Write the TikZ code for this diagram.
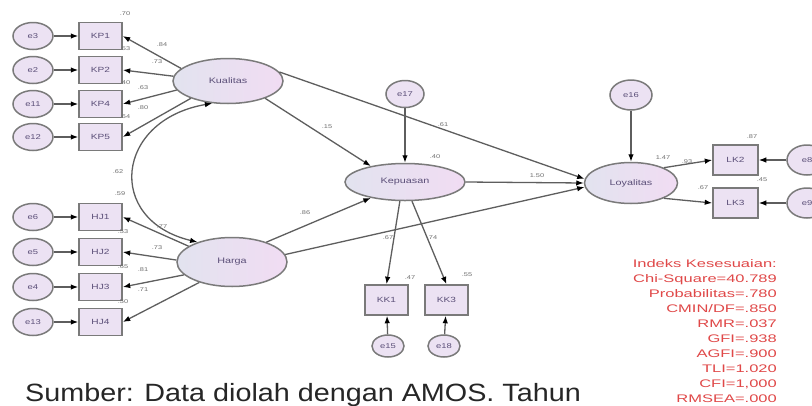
\documentclass[tikz,border=0pt]{standalone}
\usepackage{graphicx}
\usepackage{fontspec}
\setmainfont{Liberation Sans}
\usetikzlibrary{shapes.geometric,arrows.meta}
\definecolor{lgray}{HTML}{5E5E5E}
\definecolor{bgray}{HTML}{7A7A7A}
\definecolor{latL}{HTML}{E2E3EF}
\definecolor{latR}{HTML}{F1DCF3}
\definecolor{errfill}{HTML}{ECE2F3}
\definecolor{intext}{HTML}{5B4F78}
\definecolor{coef}{HTML}{707070}
\definecolor{statred}{HTML}{E04848}
\newcommand{\sx}[1]{\scalebox{1.35}[1]{#1}}
\tikzset{
  latent/.style={ellipse, draw=bgray, line width=1.5pt, left color=latL, right color=latR,
    inner sep=0pt, text=intext, font=\fontsize{8}{9}\selectfont},
  errv/.style={ellipse, draw=bgray, line width=1.5pt, fill=errfill, minimum width=40pt,
    minimum height=27pt, inner sep=0pt, text=intext, font=\fontsize{7}{8}\selectfont},
  obsbox/.style={rectangle, draw=bgray, line width=1.5pt, fill=errfill, minimum width=43pt,
    minimum height=27pt, inner sep=0pt, text=intext, font=\fontsize{7.5}{8}\selectfont},
  arr/.style={draw=lgray, line width=1.3pt, -{Latex[length=7.5pt,width=5.5pt,black]}},
  arrtwo/.style={draw=lgray, line width=1.3pt, {Latex[length=7.5pt,width=5.5pt,black]}-{Latex[length=7.5pt,width=5.5pt,black]}},
  cf/.style={text=coef, font=\fontsize{5.5}{6}\selectfont, inner sep=0pt}
}
\begin{document}
\begin{tikzpicture}[x=1pt,y=-1pt]
\useasboundingbox (0,0) rectangle (812,405);
\fill[white] (0,0) rectangle (812,405);
\clip (0,0) rectangle (812,405);

% latent variables
\node[latent, minimum width=110pt, minimum height=45pt] (kual) at (228,81) {\sx{Kualitas}};
\node[latent, minimum width=110pt, minimum height=49pt] (harga) at (232,262) {\sx{Harga}};
\node[latent, minimum width=120pt, minimum height=37pt] (kep) at (405,182) {\sx{Kepuasan}};
\node[latent, minimum width=93pt, minimum height=41pt] (loy) at (631,183) {\sx{Loyalitas}};

% Kualitas indicators
\node[obsbox] (kp1) at (100.5,36) {\sx{KP1}};
\node[obsbox] (kp2) at (100.5,70) {\sx{KP2}};
\node[obsbox] (kp4) at (100.5,104) {\sx{KP4}};
\node[obsbox] (kp5) at (100.5,137) {\sx{KP5}};
\node[errv] (e3) at (33,36) {\sx{e3}};
\node[errv] (e2) at (33,70) {\sx{e2}};
\node[errv] (e11) at (33,104) {\sx{e11}};
\node[errv] (e12) at (33,137) {\sx{e12}};

% Harga indicators
\node[obsbox] (hj1) at (100.5,217) {\sx{HJ1}};
\node[obsbox] (hj2) at (100.5,252) {\sx{HJ2}};
\node[obsbox] (hj3) at (100.5,287) {\sx{HJ3}};
\node[obsbox] (hj4) at (100.5,322) {\sx{HJ4}};
\node[errv] (e6) at (33,217) {\sx{e6}};
\node[errv] (e5) at (33,252) {\sx{e5}};
\node[errv] (e4) at (33,287) {\sx{e4}};
\node[errv] (e13) at (33,322) {\sx{e13}};

% Kepuasan
\node[errv, minimum width=38pt] (e17) at (405,94) {\sx{e17}};
\node[obsbox, minimum height=30pt] (kk1) at (386.5,300) {\sx{KK1}};
\node[obsbox, minimum height=30pt] (kk3) at (446.5,300) {\sx{KK3}};
\node[errv, minimum width=32pt, minimum height=22pt] (e15) at (388,346) {\sx{e15}};
\node[errv, minimum width=32pt, minimum height=22pt] (e18) at (444,346) {\sx{e18}};

% Loyalitas
\node[errv, minimum width=42pt, minimum height=30pt] (e16) at (631,95) {\sx{e16}};
\node[obsbox, minimum width=45pt, minimum height=30pt] (lk2) at (735.5,160) {\sx{LK2}};
\node[obsbox, minimum width=45pt, minimum height=30pt] (lk3) at (735.5,203) {\sx{LK3}};
\node[errv, minimum width=40pt, minimum height=30pt] (e8) at (807,160) {\sx{e8}};
\node[errv, minimum width=40pt, minimum height=30pt] (e9) at (807,203) {\sx{e9}};

% error -> indicator
\foreach \e/\b in {e3/kp1,e2/kp2,e11/kp4,e12/kp5,e6/hj1,e5/hj2,e4/hj3,e13/hj4}
  \draw[arr] (\e) -- (\b);
\draw[arr] (e15) -- (kk1);
\draw[arr] (e18) -- (kk3);
\draw[arr] (e8) -- (lk2);
\draw[arr] (e9) -- (lk3);
\draw[arr] (e17) -- (kep);
\draw[arr] (e16) -- (loy);

% latent -> indicator
\draw[arr] (kual.165) -- (kp1.east);
\draw[arr] (kual.175) -- (kp2.east);
\draw[arr] (kual.190) -- (kp4.east);
\draw[arr] (kual.205) -- (kp5.east);
\draw[arr] (harga.160) -- (hj1.east);
\draw[arr] (harga.178) -- (hj2.east);
\draw[arr] (harga.195) -- (hj3.east);
\draw[arr] (harga.212) -- (hj4.east);
\draw[arr] (kep.255) -- (kk1.north);
\draw[arr] (kep.290) -- (kk3.north);
\draw[arr] (loy.25) -- (lk2.west);
\draw[arr] (loy.-25) -- (lk3.west);

% structural paths
\draw[arr] (kual.-25) -- (kep.155);
\draw[arr] (kual.10) -- (loy.175);
\draw[arr] (harga.30) -- (kep.205);
\draw[arr] (harga.8) -- (loy.185);
\draw[arr] (kep.east) -- (loy.west);

% covariance
\draw[arrtwo] (kual.235) .. controls (115,120) and (105,220) .. (harga.150);

% coefficient labels
\node[cf] (c1) at (125,14) {\sx{.70}};
\node[cf] (c2) at (125,49) {\sx{.53}};
\node[cf] (c3) at (125,83) {\sx{.40}};
\node[cf] (c4) at (125,117) {\sx{.64}};
\node[cf] (c5) at (162,45) {\sx{.84}};
\node[cf] (c6) at (157,62) {\sx{.73}};
\node[cf] (c7) at (143,88) {\sx{.63}};
\node[cf] (c8) at (143,108) {\sx{.80}};
\node[cf] (c9) at (118,172) {\sx{.62}};
\node[cf] (c10) at (120,194) {\sx{.59}};
\node[cf] (c11) at (123,232) {\sx{.53}};
\node[cf] (c12) at (123,267) {\sx{.65}};
\node[cf] (c13) at (123,302) {\sx{.50}};
\node[cf] (c14) at (162,227) {\sx{.77}};
\node[cf] (c15) at (157,248) {\sx{.73}};
\node[cf] (c16) at (143,270) {\sx{.81}};
\node[cf] (c17) at (143,290) {\sx{.71}};
\node[cf] (c18) at (327,127) {\sx{.15}};
\node[cf] (c19) at (443,125) {\sx{.61}};
\node[cf] (c20) at (305,213) {\sx{.86}};
\node[cf] (c21) at (537,176) {\sx{1.50}};
\node[cf] (c22) at (435,157) {\sx{.40}};
\node[cf] (c23) at (663,158) {\sx{1.47}};
\node[cf] (c24) at (687,162) {\sx{.93}};
\node[cf] (c25) at (703,188) {\sx{.67}};
\node[cf] (c26) at (752,137) {\sx{.87}};
\node[cf] (c27) at (762,180) {\sx{.45}};
\node[cf] (c28) at (410,278) {\sx{.47}};
\node[cf] (c29) at (467,275) {\sx{.55}};
\node[cf] (c30) at (388,238) {\sx{.67}};
\node[cf] (c31) at (432,238) {\sx{.74}};

% fit indices
\node[anchor=north east, align=right, text=statred, inner sep=0pt,
  font=\fontsize{11}{15}\selectfont] (fit) at (777,259) {%
  \scalebox{1.5}[1]{Indeks Kesesuaian:}\\
  \scalebox{1.5}[1]{Chi-Square=40.789}\\
  \scalebox{1.5}[1]{Probabilitas=.780}\\
  \scalebox{1.5}[1]{CMIN/DF=.850}\\
  \scalebox{1.5}[1]{RMR=.037}\\
  \scalebox{1.5}[1]{GFI=.938}\\
  \scalebox{1.5}[1]{AGFI=.900}\\
  \scalebox{1.5}[1]{TLI=1.020}\\
  \scalebox{1.5}[1]{CFI=1,000}\\
  \scalebox{1.5}[1]{RMSEA=.000}};

% caption
\node[anchor=base west, inner sep=0pt, text={black!85}, font=\fontsize{25}{28}\selectfont] (cap) at (25,401)
  {\scalebox{1.15}[1]{Sumber: Data diolah dengan AMOS. Tahun}};
\end{tikzpicture}
\end{document}
